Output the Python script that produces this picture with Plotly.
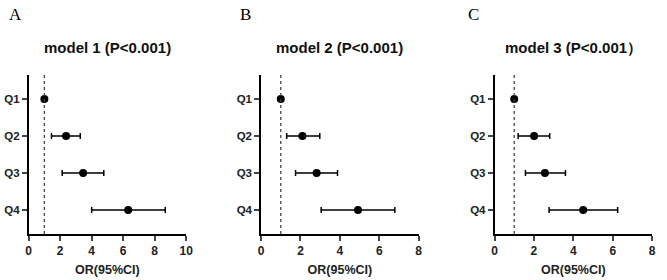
import plotly.graph_objects as go

W, H = 667, 280

quartiles = ["Q1", "Q2", "Q3", "Q4"]

or_m1 = [1.0, 2.38, 3.46, 6.32]
lo_m1 = [1.0, 1.45, 2.13, 4.00]
hi_m1 = [1.0, 3.28, 4.77, 8.67]

or_m2 = [1.0, 2.10, 2.82, 4.92]
lo_m2 = [1.0, 1.30, 1.75, 3.05]
hi_m2 = [1.0, 2.98, 3.88, 6.79]

or_m3 = [1.0, 2.01, 2.56, 4.50]
lo_m3 = [1.0, 1.20, 1.57, 2.77]
hi_m3 = [1.0, 2.80, 3.60, 6.25]

titles = ["model 1 (P<0.001)", "model 2 (P<0.001)", "model 3 (P<0.001）"]
panel_letters = ["A", "B", "C"]
x_max = [10, 8, 8]
x_ticks = [[0, 2, 4, 6, 8, 10], [0, 2, 4, 6, 8], [0, 2, 4, 6, 8]]
x_title = "OR(95%CI)"

# plot-area pixel positions (left, right)
px_lr = [(26, 186), (262, 422), (499, 659)]
py_top, py_bot = 75, 234
letter_x = [13, 246, 478]

data = [(or_m1, lo_m1, hi_m1), (or_m2, lo_m2, hi_m2), (or_m3, lo_m3, hi_m3)]

fig = go.Figure()
FONT = "Liberation Sans, Arial, sans-serif"
layout = dict(
    width=W, height=H, margin=dict(l=0, r=0, t=0, b=0),
    paper_bgcolor="white", plot_bgcolor="white", showlegend=False,
    font=dict(family=FONT, color="black"),
)
annotations = []
shapes = []
ydom = [(H - py_bot) / H, (H - py_top) / H]

for i, (orv, lo, hi) in enumerate(data):
    sfx = "" if i == 0 else str(i + 1)
    plus = [h - o for h, o in zip(hi, orv)]
    minus = [o - l for o, l in zip(orv, lo)]
    fig.add_trace(go.Scatter(
        x=orv, y=quartiles, mode="markers",
        marker=dict(color="black", size=8),
        error_x=dict(type="data", array=plus, arrayminus=minus,
                     color="black", thickness=1.5, width=3, symmetric=False),
        xaxis="x" + sfx, yaxis="y" + sfx,
    ))
    l, r = px_lr[i]
    layout["xaxis" + sfx] = dict(
        domain=[l / W, r / W], anchor="y" + sfx, range=[0, x_max[i]],
        tickvals=x_ticks[i], ticktext=["<b>%d</b>" % v for v in x_ticks[i]],
        ticks="outside", ticklen=5, tickwidth=1.5,
        showline=True, linecolor="black", linewidth=1.5, showgrid=False,
        zeroline=False, tickfont=dict(size=12, family=FONT, color="#222"),
        title=dict(text="<b>" + x_title + "</b>", font=dict(size=12.5, color="#222"), standoff=8),
    )
    layout["yaxis" + sfx] = dict(
        domain=ydom, anchor="x" + sfx, type="category",
        categoryorder="array", categoryarray=quartiles,
        tickvals=quartiles, ticktext=["<b>%s</b>" % q for q in quartiles],
        range=[3.65, -0.65], ticks="outside", ticklen=5, tickwidth=1.5,
        showline=True, linecolor="black", linewidth=1.5, showgrid=False,
        zeroline=False, tickfont=dict(size=11.5, family=FONT, color="#222"),
    )
    shapes.append(dict(type="line", xref="x" + sfx, yref="y" + sfx + " domain",
                       x0=1, x1=1, y0=0, y1=1,
                       line=dict(color="#444444", width=1.3, dash="dot")))
    annotations.append(dict(text="<b>" + titles[i] + "</b>", xref="paper", yref="paper",
                            x=(l + r) / 2 / W, y=(H - 48) / H, showarrow=False,
                            xanchor="center", yanchor="middle",
                            font=dict(size=15, family=FONT, color="#111")))
    annotations.append(dict(text=panel_letters[i], xref="paper", yref="paper",
                            x=letter_x[i] / W, y=(H - 14) / H, showarrow=False,
                            xanchor="center", yanchor="middle",
                            font=dict(size=17, family="Liberation Serif, Times New Roman, serif")))

layout["annotations"] = annotations
layout["shapes"] = shapes
fig.update_layout(**layout)
fig.write_html("out.html")
